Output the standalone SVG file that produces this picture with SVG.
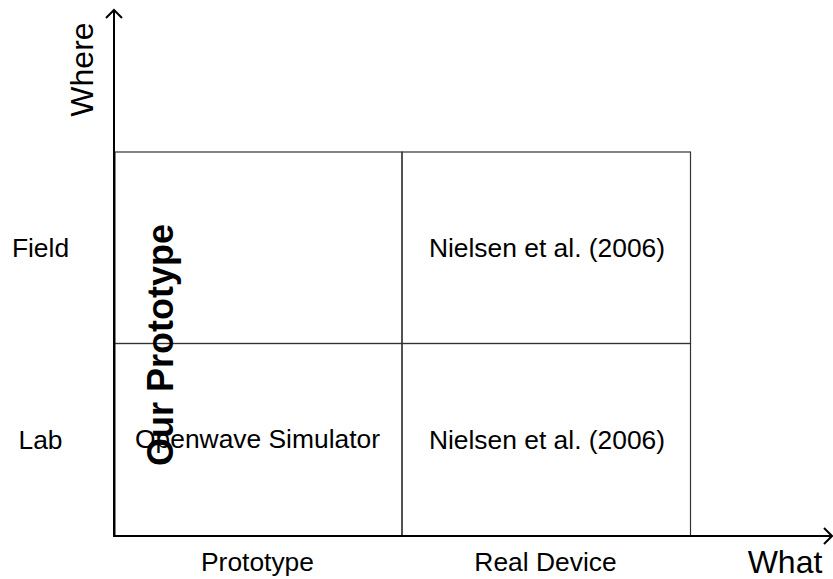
<svg xmlns="http://www.w3.org/2000/svg" width="833" height="579" viewBox="0 0 833 579">
  <style>
    .lbl { font-family: "Liberation Sans", Arial, sans-serif; font-size: 26.4px; fill: #000; }
    .axis-lbl { font-family: "Liberation Sans", Arial, sans-serif; font-size: 32px; fill: #000; }
    .bold { font-family: "Liberation Sans", Arial, sans-serif; font-size: 36px; font-weight: bold; fill: #000; }
    .grid { stroke: #333; stroke-width: 1.2; fill: none; }
    .axis { stroke: #000; stroke-width: 2; fill: none; }
  </style>
  <rect width="833" height="579" fill="#fff"/>

  <!-- 2x2 matrix cells -->
  <g id="cell-prototype-field"><rect class="grid" x="115" y="152" width="287" height="191.5"/></g>
  <g id="cell-device-field">
    <rect class="grid" x="402" y="152" width="288.5" height="191.5"/>
    <text class="lbl" x="547" y="257" text-anchor="middle">Nielsen et al. (2006)</text>
  </g>
  <g id="cell-prototype-lab">
    <rect class="grid" x="115" y="343.5" width="287" height="192.5"/>
    <text class="lbl" x="257.5" y="448" text-anchor="middle">Openwave Simulator</text>
  </g>
  <g id="cell-device-lab">
    <rect class="grid" x="402" y="343.5" width="288.5" height="192.5"/>
    <text class="lbl" x="547" y="449" text-anchor="middle">Nielsen et al. (2006)</text>
  </g>

  <!-- axes with open arrowheads -->
  <g id="connectors">
    <path class="axis" d="M114 537 V10"/>
    <path class="axis" d="M106 18 L114 10 L122 18"/>
    <path class="axis" d="M113 536 H832"/>
    <path class="axis" d="M824 528 L832 536 L824 544"/>
  </g>

  <!-- axis titles -->
  <g id="axis-where"><text class="axis-lbl" transform="translate(93 69.5) rotate(-90)" text-anchor="middle">Where</text></g>
  <g id="axis-what"><text class="axis-lbl" x="785" y="573" text-anchor="middle">What</text></g>

  <!-- row and column labels -->
  <g id="row-field"><text class="lbl" x="40.5" y="257" text-anchor="middle">Field</text></g>
  <g id="row-lab"><text class="lbl" x="40.5" y="449" text-anchor="middle">Lab</text></g>
  <g id="col-prototype"><text class="lbl" x="257.5" y="571" text-anchor="middle">Prototype</text></g>
  <g id="col-device"><text class="lbl" x="545.5" y="571" text-anchor="middle">Real Device</text></g>

  <!-- highlighted span across the prototype column -->
  <g id="our-prototype"><text class="bold" transform="translate(173 345) rotate(-90)" text-anchor="middle">Our Prototype</text></g>
</svg>
